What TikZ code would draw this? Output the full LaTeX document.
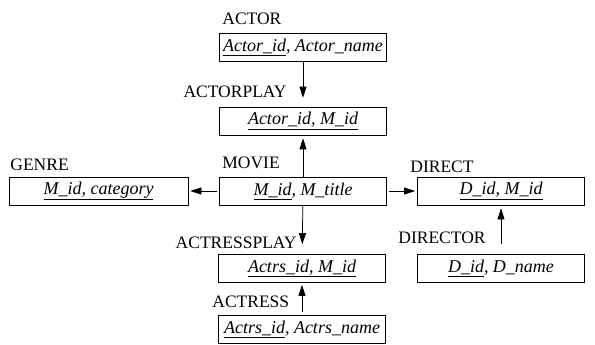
\documentclass[tikz,border=0pt]{standalone}
\usepackage{fontspec}
\setmainfont{Liberation Serif}
\usetikzlibrary{arrows.meta}

\begin{document}
\begin{tikzpicture}[x=1pt,y=-1pt,>={Triangle[length=11pt,width=7pt]},line width=0.75pt,
                    table/.style={draw,minimum width=167pt,minimum height=28pt,inner sep=0pt,
                                  font=\fontsize{18}{21}\selectfont\itshape},
                    relname/.style={inner sep=0pt,font=\fontsize{17.5}{21}\selectfont}]
  \useasboundingbox (0,0) rectangle (595,345);

  \node[table] (1) at (303,47) {\underline{Actor\_id}, Actor\_name};
  \node[table] (2) at (303,121) {\underline{Actor\_id, M\_id}};
  \node[table] (3) at (303,191) {\underline{M\_id}, M\_title};
  \node[table,minimum width=179pt] (4) at (98.5,191) {\underline{M\_id, category}};
  \node[table] (5) at (501,191) {\underline{D\_id, M\_id}};
  \node[table] (6) at (302,268.5) {\underline{Actrs\_id, M\_id}};
  \node[table] (7) at (501,268.5) {\underline{D\_id}, D\_name};
  \node[table] (8) at (302,329) {\underline{Actrs\_id}, Actrs\_name};

  \node[relname,anchor=base west] (n1) at (222,25) {ACTOR};
  \node[relname,anchor=base east] (n2) at (287,98) {ACTORPLAY};
  \node[relname,anchor=base west] (n3) at (222,168) {MOVIE};
  \node[relname,anchor=base west] (n4) at (10,170) {GENRE};
  \node[relname,anchor=base west] (n5) at (410,172) {DIRECT};
  \node[relname,anchor=base east] (n6) at (297,248) {ACTRESSPLAY};
  \node[relname,anchor=base west] (n7) at (398,243) {DIRECTOR};
  \node[relname,anchor=base west] (n8) at (212,307) {ACTRESS};

  \path[->]
    (1) edge [shorten >=9pt] (2)
    (3) edge [shorten >=3pt] (2)
    (3) edge [shorten <=2pt,shorten >=2pt] (4)
    (3) edge [shorten <=2pt,shorten >=2pt] (5)
    (3) edge [shorten >=10pt] (6)
    (7) edge [shorten <=10pt,shorten >=3pt] (5)
    (8) edge [shorten <=3pt,shorten >=2pt] (6)
;
\end{tikzpicture}
\end{document}
